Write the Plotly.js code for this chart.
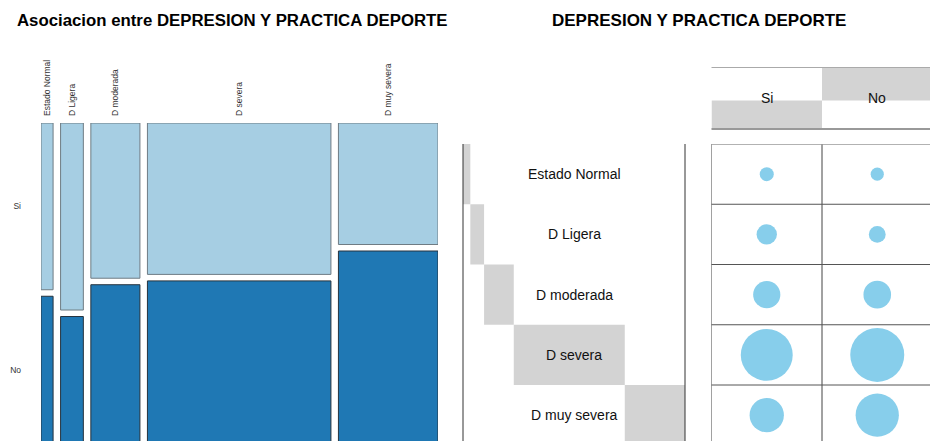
<!DOCTYPE html>
<html>
<head>
<meta charset="utf-8">
<script src="https://cdn.plot.ly/plotly-3.0.1.min.js"></script>
<style>html,body{margin:0;padding:0;background:#fff}</style>
</head>
<body>
<div id="plot" style="width:930px;height:441px"></div>
<script>
const depresion = ["Estado Normal", "D Ligera", "D moderada", "D severa", "D muy severa"];
const deporte = ["Si", "No"];
const si = [9, 19, 34, 124, 54];
const no = [8, 13, 35, 134, 86];

const W = 930, H = 441;
const FONT = "Liberation Sans, Arial, sans-serif";
// pixel -> domain helpers
const xd = (a, b) => [a / W, b / W];
const yd = (top, bottom) => [1 - bottom / H, 1 - top / H];

const tot = si.map((v, i) => v + no[i]);
const N = tot.reduce((a, b) => a + b, 0);
const totSi = si.reduce((a, b) => a + b, 0);
const totNo = no.reduce((a, b) => a + b, 0);

// mosaic geometry: gaps of ~7.5px between columns, ~6.5px between cells
const GX = 7.5 * N / 367;
const GY = 6.5 / 315;
const centers = [];
let cx = 0;
tot.forEach((t) => { centers.push(cx + t / 2); cx += t + GX; });
const pSi = si.map((v, i) => v / tot[i]);
const pNo = no.map((v, i) => v / tot[i]);

// cumulative row totals for the balloon plot margin shading
const cum = [];
let c = 0;
tot.forEach((t) => { cum.push(c); c += t; });
const rows = depresion.map((_, i) => i + 1);

const maxCell = Math.max(...si, ...no);
const MAXD = 54;
const dot = (v) => MAXD * Math.sqrt(v / maxCell);

const traces = [
  {
    type: "bar", x: centers, y: pSi, base: pNo.map((p) => p + GY), width: tot,
    marker: { color: "#a6cee3", line: { color: "#6f7c84", width: 1 } },
    xaxis: "x", yaxis: "y", hoverinfo: "skip"
  },
  {
    type: "bar", x: centers, y: pNo, base: pNo.map(() => 0), width: tot,
    marker: { color: "#1f78b4", line: { color: "#26333e", width: 1 } },
    xaxis: "x", yaxis: "y", hoverinfo: "skip"
  },
  // row totals shading
  {
    type: "bar", orientation: "h", y: rows, x: tot, base: cum, width: rows.map(() => 1),
    marker: { color: "#d3d3d3", line: { width: 0 } },
    xaxis: "x3", yaxis: "y3", hoverinfo: "skip"
  },
  // column totals shading
  {
    type: "bar", x: [1, 2], y: [totSi / N, totNo / N], base: [0, totSi / N], width: [1, 1],
    marker: { color: "#d3d3d3", line: { width: 0 } },
    xaxis: "x4", yaxis: "y4", hoverinfo: "skip"
  },
  // balloons
  {
    type: "scatter", mode: "markers",
    x: [...rows.map(() => 1), ...rows.map(() => 2)],
    y: [...rows, ...rows],
    marker: { color: "#87ceeb", size: [...si.map(dot), ...no.map(dot)], line: { width: 0 }, opacity: 1 },
    xaxis: "x2", yaxis: "y2", hoverinfo: "skip"
  }
];

const hidden = { showgrid: false, zeroline: false, showticklabels: false, ticks: "", showline: false };

const layout = {
  width: W, height: H,
  margin: { l: 0, r: 0, t: 0, b: 0 },
  paper_bgcolor: "#fff", plot_bgcolor: "rgba(0,0,0,0)",
  showlegend: false, barmode: "overlay",
  font: { family: FONT, color: "#000" },
  xaxis: {
    ...hidden, domain: xd(41, 438), range: [0, N + 4 * GX], side: "top",
    showticklabels: true, tickvals: centers, ticktext: depresion, tickangle: -90,
    tickfont: { size: 8.5, color: "#333", family: FONT }, ticklabelstandoff: 6
  },
  yaxis: {
    ...hidden, domain: yd(123, 441), range: [3.5 / 315, 1 + GY],
    showticklabels: true,
    tickvals: [pNo[0] + GY + pSi[0] / 2, pNo[0] / 2], ticktext: deporte,
    tickfont: { size: 8.5, color: "#333", family: FONT }, ticklabelstandoff: 19
  },
  xaxis2: { ...hidden, domain: xd(711.5, 930), range: [0.5, 0.5 + (930 - 711.5) / 110.5], anchor: "y2" },
  yaxis2: { ...hidden, domain: yd(144, 441), range: [0.5 + 297 / 60.25, 0.5], anchor: "x2" },
  xaxis3: { ...hidden, domain: xd(463, 685), range: [0, N], anchor: "y3" },
  yaxis3: { ...hidden, domain: yd(144, 441), range: [0.5 + 297 / 60.25, 0.5], anchor: "x3" },
  xaxis4: { ...hidden, domain: xd(711.5, 930), range: [0.5, 0.5 + (930 - 711.5) / 110.5], anchor: "y4" },
  yaxis4: { ...hidden, domain: yd(67.5, 129), range: [0, 1], anchor: "x4" },
  shapes: [],
  annotations: [
    {
      text: "<b>Asociacion entre DEPRESION Y PRACTICA DEPORTE</b>", xref: "paper", yref: "paper",
      x: 232.5 / W, y: 1 - 20.5 / H, xanchor: "center", yanchor: "middle",
      showarrow: false, font: { size: 16.8, family: FONT }
    },
    {
      text: "<b>DEPRESION Y PRACTICA DEPORTE</b>", xref: "paper", yref: "paper",
      x: 699 / W, y: 1 - 20.5 / H, xanchor: "center", yanchor: "middle",
      showarrow: false, font: { size: 17, family: FONT }
    }
  ]
};

// balloon grid
const line = (o, color, width) => layout.shapes.push({ type: "line", line: { color, width }, ...o });
[0.5, 1.5].forEach((v) =>
  line({ xref: "x2", yref: "y2 domain", x0: v, x1: v, y0: 0, y1: 1 }, "#444", 1));
[1.5, 2.5, 3.5, 4.5].forEach((v) =>
  line({ xref: "x2 domain", yref: "y2", x0: 0, x1: 1, y0: v, y1: v }, "#555", 1));
line({ xref: "x2 domain", yref: "y2", x0: 0, x1: 1, y0: 0.5, y1: 0.5 }, "#999", 1.5);
// header
line({ xref: "x4 domain", yref: "y4 domain", x0: 0, x1: 1, y0: 1, y1: 1 }, "#aaa", 1);
line({ xref: "x4 domain", yref: "y4 domain", x0: 0, x1: 1, y0: 0, y1: 0 }, "#999", 2);
// row label panel borders
[0, 1].forEach((v) =>
  line({ xref: "x3 domain", yref: "y3 domain", x0: v, x1: v, y0: 0, y1: 1 }, "#333", 1));

depresion.forEach((d, i) => layout.annotations.push({
  text: d, xref: "x3 domain", yref: "y3", x: 0.5, y: i + 1, showarrow: false,
  font: { size: 14, family: FONT, color: "#111" }
}));
deporte.forEach((d, i) => layout.annotations.push({
  text: d, xref: "x4", yref: "y4 domain", x: i + 1, y: 0.5, showarrow: false,
  font: { size: 14, family: FONT, color: "#111" }
}));

Plotly.newPlot("plot", traces, layout, { displayModeBar: false, staticPlot: true });
</script>
</body>
</html>
